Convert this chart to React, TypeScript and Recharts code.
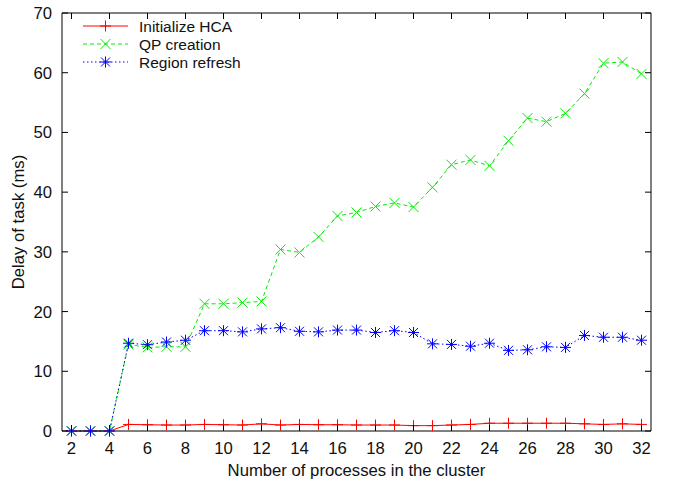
import React from "react";
import { ComposedChart, Line, XAxis, YAxis } from "recharts";

// x: number of processes
const procs = [2, 3, 4, 5, 6, 7, 8, 9, 10, 11, 12, 13, 14, 15, 16, 17, 18, 19, 20, 21, 22, 23, 24, 25, 26, 27, 28, 29, 30, 31, 32];

const initHca = [0, 0, 0, 1.1, 1.05, 1.0, 1.0, 1.1, 1.05, 1.0, 1.2, 1.0, 1.1, 1.05, 1.05, 1.0, 1.0, 1.0, 0.9, 0.9, 1.0, 1.1, 1.3, 1.3, 1.3, 1.3, 1.3, 1.2, 1.1, 1.2, 1.1];
const qpCreation = [0, 0, 0, 14.5, 14.0, 14.1, 14.1, 21.3, 21.3, 21.5, 21.7, 30.4, 29.9, 32.5, 36.0, 36.6, 37.6, 38.2, 37.5, 40.8, 44.6, 45.4, 44.4, 48.6, 52.4, 51.8, 53.2, 56.5, 61.6, 61.8, 59.8];
const regionRefresh = [0, 0, 0, 14.7, 14.45, 14.9, 15.2, 16.8, 16.8, 16.6, 17.1, 17.3, 16.7, 16.6, 16.9, 16.9, 16.5, 16.8, 16.5, 14.6, 14.5, 14.2, 14.7, 13.5, 13.6, 14.1, 14.0, 16.0, 15.7, 15.7, 15.2];

const xTicks = [2, 4, 6, 8, 10, 12, 14, 16, 18, 20, 22, 24, 26, 28, 30, 32];
const yTicks = [0, 10, 20, 30, 40, 50, 60, 70];

const RED = "#ff0000";
const GREEN = "#00ee00";
const BLUE = "#0000ff";
const FONT = "'Liberation Sans', Arial, Helvetica, sans-serif";
const FS = 16.7;
const LEGEND_FS = 15.5;

const data = procs.map((p, i) => ({
  p,
  hca: initHca[i],
  qp: qpCreation[i],
  region: regionRefresh[i],
}));

const Plus = ({ cx, cy, color }: any) => (
  <g stroke={color} strokeWidth={1}>
    <line x1={cx - 5.5} y1={cy} x2={cx + 5.5} y2={cy} />
    <line x1={cx} y1={cy - 5.5} x2={cx} y2={cy + 5.5} />
  </g>
);

const Cross = ({ cx, cy, color }: any) => (
  <g stroke={color} strokeWidth={1}>
    <line x1={cx - 5} y1={cy - 5} x2={cx + 5} y2={cy + 5} />
    <line x1={cx - 5} y1={cy + 5} x2={cx + 5} y2={cy - 5} />
  </g>
);

const Star = ({ cx, cy, color }: any) => (
  <g stroke={color} strokeWidth={1}>
    <line x1={cx - 5.5} y1={cy} x2={cx + 5.5} y2={cy} />
    <line x1={cx} y1={cy - 5.5} x2={cx} y2={cy + 5.5} />
    <line x1={cx - 4.5} y1={cy - 4.5} x2={cx + 4.5} y2={cy + 4.5} />
    <line x1={cx - 4.5} y1={cy + 4.5} x2={cx + 4.5} y2={cy - 4.5} />
  </g>
);

const BottomTick = ({ x, y, payload }: any) => (
  <g>
    <line x1={x} y1={y} x2={x} y2={y - 6} stroke="#000" />
    <text x={x} y={y + 23} textAnchor="middle" fontSize={FS} fontFamily={FONT} fill="#111">
      {payload.value}
    </text>
  </g>
);

const TopTick = ({ x, y }: any) => <line x1={x} y1={y} x2={x} y2={y + 6} stroke="#000" />;

const LeftTick = ({ x, y, payload }: any) => (
  <g>
    <line x1={x} y1={y} x2={x + 6} y2={y} stroke="#000" />
    <text x={x - 10} y={y + 6} textAnchor="end" fontSize={FS} fontFamily={FONT} fill="#111">
      {payload.value}
    </text>
  </g>
);

const RightTick = ({ x, y }: any) => <line x1={x} y1={y} x2={x - 6} y2={y} stroke="#000" />;

const legendItems = [
  { label: "Initialize HCA", color: RED, dash: undefined, Mark: Plus },
  { label: "QP creation", color: GREEN, dash: "4 3", Mark: Cross },
  { label: "Region refresh", color: BLUE, dash: "1.5 2.5", Mark: Star },
];

export default function App() {
  return (
    <div style={{ position: "absolute", left: 0, top: 0, width: 674, height: 487, background: "#fff" }}>
      <ComposedChart
        width={674}
        height={487}
        data={data}
        margin={{ top: 12, right: 22, bottom: 0, left: 0 }}
      >
        <XAxis
          xAxisId="b"
          dataKey="p"
          type="number"
          domain={[1.5, 32.5]}
          ticks={xTicks}
          height={56}
          tickSize={0}
          tickMargin={0}
          tick={<BottomTick />}
          axisLine={{ stroke: "#000", strokeWidth: 1 }}
          tickLine={false}
          interval={0}
        />
        <XAxis
          xAxisId="t"
          dataKey="p"
          type="number"
          orientation="top"
          domain={[1.5, 32.5]}
          ticks={xTicks}
          height={1}
          tickSize={0}
          tickMargin={0}
          tick={<TopTick />}
          axisLine={{ stroke: "#000", strokeWidth: 1 }}
          tickLine={false}
          interval={0}
        />
        <YAxis
          yAxisId="l"
          type="number"
          domain={[0, 70]}
          ticks={yTicks}
          width={62}
          tickSize={0}
          tickMargin={0}
          tick={<LeftTick />}
          axisLine={{ stroke: "#000", strokeWidth: 1 }}
          tickLine={false}
          interval={0}
        />
        <YAxis
          yAxisId="r"
          type="number"
          orientation="right"
          domain={[0, 70]}
          ticks={yTicks}
          width={1}
          tickSize={0}
          tickMargin={0}
          tick={<RightTick />}
          axisLine={{ stroke: "#000", strokeWidth: 1 }}
          tickLine={false}
          interval={0}
        />
        <Line
          xAxisId="b"
          yAxisId="l"
          dataKey="hca"
          stroke={RED}
          strokeWidth={1}
          type="linear"
          isAnimationActive={false}
          dot={(props: any) => <Plus key={`h${props.index}`} cx={props.cx} cy={props.cy} color={RED} />}
        />
        <Line
          xAxisId="b"
          yAxisId="l"
          dataKey="qp"
          stroke={GREEN}
          strokeWidth={1}
          strokeDasharray="4 3"
          type="linear"
          isAnimationActive={false}
          dot={(props: any) => <Cross key={`q${props.index}`} cx={props.cx} cy={props.cy} color={GREEN} />}
        />
        <Line
          xAxisId="b"
          yAxisId="l"
          dataKey="region"
          stroke={BLUE}
          strokeWidth={1}
          strokeDasharray="1.5 2.5"
          type="linear"
          isAnimationActive={false}
          dot={(props: any) => <Star key={`r${props.index}`} cx={props.cx} cy={props.cy} color={BLUE} />}
        />
        {/* invisible series so the mirror axes get drawn */}
        <Line
          xAxisId="t"
          yAxisId="r"
          dataKey="hca"
          stroke="none"
          dot={false}
          activeDot={false}
          legendType="none"
          isAnimationActive={false}
        />
      </ComposedChart>
      <svg
        width={674}
        height={487}
        style={{ position: "absolute", left: 0, top: 0, pointerEvents: "none" }}
      >
        <text
          x={23.5}
          y={222}
          transform="rotate(-90 23.5 222)"
          textAnchor="middle"
          fontSize={FS}
          fontFamily={FONT}
          fill="#111"
        >
          Delay of task (ms)
        </text>
        <text x={356.5} y={476} textAnchor="middle" fontSize={FS} fontFamily={FONT} fill="#111">
          Number of processes in the cluster
        </text>
        {legendItems.map((item, i) => {
          const cy = 26 + i * 18;
          const Mark = item.Mark;
          return (
            <g key={item.label}>
              <line x1={83} y1={cy} x2={128} y2={cy} stroke={item.color} strokeDasharray={item.dash} />
              <Mark cx={105.5} cy={cy} color={item.color} />
              <text x={139} y={cy + 5.5} fontSize={LEGEND_FS} fontFamily={FONT} fill="#111">
                {item.label}
              </text>
            </g>
          );
        })}
      </svg>
    </div>
  );
}
